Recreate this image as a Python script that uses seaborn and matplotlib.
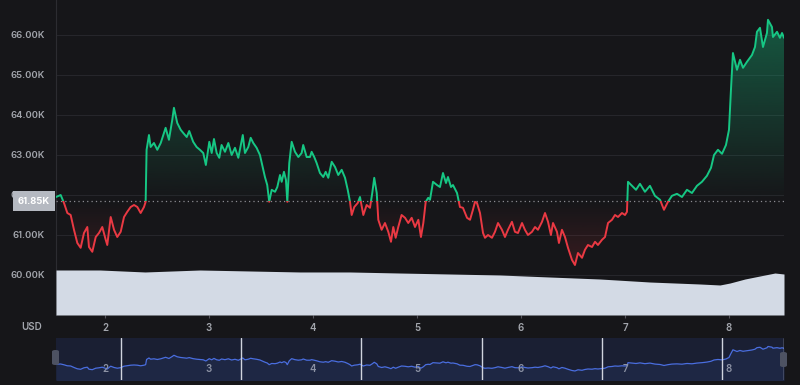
import numpy as np
import pandas as pd
import matplotlib
matplotlib.use("Agg")
import matplotlib.pyplot as plt
import matplotlib.transforms as mtransforms
from matplotlib.path import Path
from matplotlib.patches import PathPatch, Rectangle, FancyBboxPatch
from matplotlib.colors import to_rgb
import seaborn as sns

# --- data (day of month, price in K USD) --- #
days = [1.529, 1.574, 1.606, 1.638, 1.670, 1.702, 1.734, 1.766, 1.798, 1.830,
        1.846, 1.878, 1.911, 1.942, 1.974, 2.007, 2.022, 2.055, 2.087, 2.118,
        2.151, 2.183, 2.214, 2.247, 2.279, 2.311, 2.343, 2.375, 2.391, 2.400,
        2.423, 2.439, 2.471, 2.503, 2.536, 2.567, 2.583, 2.615, 2.647, 2.663,
        2.695, 2.728, 2.753, 2.786, 2.810, 2.848, 2.881, 2.913, 2.945, 2.970,
        3.003, 3.026, 3.048, 3.074, 3.099, 3.121, 3.154, 3.186, 3.218, 3.250,
        3.282, 3.325, 3.346, 3.378, 3.401, 3.426, 3.458, 3.490, 3.516, 3.538,
        3.560, 3.579, 3.603, 3.635, 3.657, 3.683, 3.699, 3.721, 3.740, 3.753,
        3.772, 3.795, 3.827, 3.859, 3.891, 3.906, 3.939, 3.971, 3.987, 4.012,
        4.035, 4.067, 4.099, 4.122, 4.147, 4.180, 4.212, 4.243, 4.276, 4.308,
        4.334, 4.356, 4.372, 4.397, 4.430, 4.452, 4.484, 4.516, 4.548, 4.570,
        4.589, 4.613, 4.628, 4.660, 4.692, 4.724, 4.750, 4.772, 4.795, 4.820,
        4.852, 4.885, 4.916, 4.949, 4.981, 5.013, 5.038, 5.061, 5.084, 5.108,
        5.125, 5.154, 5.192, 5.221, 5.250, 5.279, 5.298, 5.327, 5.346, 5.385,
        5.413, 5.442, 5.481, 5.510, 5.538, 5.558, 5.577, 5.606, 5.635, 5.654,
        5.683, 5.721, 5.750, 5.779, 5.817, 5.846, 5.875, 5.913, 5.942, 5.971,
        6.010, 6.038, 6.067, 6.106, 6.135, 6.163, 6.202, 6.231, 6.260, 6.288,
        6.308, 6.346, 6.365, 6.394, 6.423, 6.452, 6.490, 6.519, 6.548, 6.587,
        6.615, 6.644, 6.683, 6.712, 6.740, 6.779, 6.808, 6.837, 6.875, 6.904,
        6.933, 6.971, 7.000, 7.019, 7.029, 7.067, 7.106, 7.144, 7.192, 7.240,
        7.288, 7.337, 7.375, 7.413, 7.452, 7.500, 7.548, 7.596, 7.644, 7.692,
        7.740, 7.788, 7.827, 7.856, 7.894, 7.933, 7.971, 8.000, 8.019, 8.038,
        8.077, 8.106, 8.135, 8.173, 8.221, 8.250, 8.269, 8.298, 8.327, 8.365,
        8.375, 8.413, 8.423, 8.462, 8.490, 8.510, 8.529]

price = [61.95, 62.00, 61.80, 61.55, 61.50, 61.13, 60.80, 60.68, 61.05, 61.20,
         60.70, 60.58, 60.95, 61.05, 61.20, 60.88, 60.75, 61.45, 61.13, 60.95,
         61.08, 61.45, 61.58, 61.70, 61.75, 61.70, 61.55, 61.70, 61.83, 63.13,
         63.50, 63.20, 63.30, 63.13, 63.30, 63.55, 63.68, 63.38, 63.88, 64.18,
         63.80, 63.63, 63.55, 63.45, 63.60, 63.33, 63.20, 63.13, 63.05, 62.75,
         63.33, 63.05, 63.40, 63.05, 62.93, 63.25, 63.08, 63.30, 63.00, 63.18,
         62.93, 63.50, 63.05, 63.20, 63.43, 63.30, 63.18, 63.00, 62.70, 62.45,
         62.25, 61.83, 62.13, 62.08, 62.20, 62.50, 62.33, 62.58, 62.38, 61.83,
         62.80, 63.33, 63.08, 62.95, 63.05, 63.25, 62.95, 62.95, 63.08, 62.95,
         62.80, 62.55, 62.45, 62.58, 62.43, 62.83, 62.70, 62.50, 62.63, 62.43,
         62.13, 61.83, 61.50, 61.70, 61.80, 61.95, 61.50, 61.75, 61.68, 62.05,
         62.43, 62.05, 61.38, 61.13, 61.30, 61.08, 60.83, 61.20, 60.93, 61.20,
         61.50, 61.43, 61.30, 61.43, 61.20, 61.38, 60.95, 61.30, 61.83, 61.93,
         61.88, 62.33, 62.25, 62.20, 62.55, 62.30, 62.45, 62.20, 62.25, 62.05,
         61.70, 61.68, 61.43, 61.38, 61.63, 61.83, 61.80, 61.55, 61.05, 60.93,
         61.00, 60.93, 61.08, 61.30, 61.13, 60.95, 61.13, 61.33, 61.08, 61.05,
         61.30, 61.13, 61.00, 61.08, 61.20, 61.13, 61.33, 61.55, 61.33, 61.00,
         61.30, 61.08, 60.80, 61.13, 60.95, 60.68, 60.38, 60.25, 60.55, 60.43,
         60.63, 60.75, 60.70, 60.83, 60.75, 60.88, 60.95, 61.30, 61.38, 61.50,
         61.45, 61.55, 61.50, 61.58, 62.33, 62.23, 62.13, 62.28, 62.08, 62.23,
         61.98, 61.88, 61.63, 61.83, 61.98, 62.03, 61.95, 62.13, 62.05, 62.23,
         62.33, 62.48, 62.68, 63.00, 63.13, 63.03, 63.25, 63.63, 64.63, 65.55,
         65.13, 65.38, 65.18, 65.33, 65.50, 65.70, 66.08, 66.18, 65.70, 66.05,
         66.38, 66.20, 65.95, 66.08, 65.93, 66.05, 65.93]

vol_days = [1.529, 1.952, 2.385, 2.913, 3.394, 3.875, 4.356, 4.837, 5.317, 5.798,
            6.279, 6.760, 7.240, 7.721, 7.913, 8.010, 8.154, 8.298, 8.442, 8.529]
volume = [10.0, 10.0, 9.56, 10.0, 9.78, 9.56, 9.56, 9.33, 9.11, 8.89,
          8.44, 8.0, 7.33, 6.89, 6.67, 7.11, 8.0, 8.67, 9.33, 9.11]

base_price = 61.85
day_ticks = [2, 3, 4, 5, 6, 7, 8]
price_ticks = [60, 61, 62, 63, 64, 65, 66]
nav_marks = [2.154, 3.308, 4.462, 5.625, 6.779, 7.933, 8.529]

BG = "#161619"
GREEN = "#16c784"
RED = "#ea3943"
LABEL = "#a3a6ad"

sns.set_theme(style="dark", rc={"axes.facecolor": BG, "figure.facecolor": BG})
plt.rcParams["font.family"] = ["Inter", "DejaVu Sans"]

df = pd.DataFrame({"day": days, "price": price})
x0, x1 = days[0], days[-1]
y_lo, y_hi = 59.0, 66.875

fig = plt.figure(figsize=(8, 3.85), dpi=100)
ax = fig.add_axes([0.07, 70 / 385, 0.91, 315 / 385])

# --- gradient fill between price and base line --- #
verts = np.column_stack([np.r_[days, days[::-1]],
                         np.r_[price, np.full(len(days), base_price)]])
fill_patch = PathPatch(Path(verts), facecolor="none", edgecolor="none")
ax.add_patch(fill_patch)

g = np.zeros((256, 1, 4))
g[..., :3] = to_rgb(GREEN)
g[:, 0, 3] = np.linspace(0.42, 0.0, 256)
im = ax.imshow(g, extent=(x0, x1, base_price, y_hi), aspect="auto", origin="upper", zorder=1)
im.set_clip_path(fill_patch)

r = np.zeros((256, 1, 4))
r[..., :3] = to_rgb(RED)
r[:, 0, 3] = np.linspace(0.0, 0.28, 256)
im2 = ax.imshow(r, extent=(x0, x1, y_lo, base_price), aspect="auto", origin="upper", zorder=1)
im2.set_clip_path(fill_patch)

# --- price line, green above base, red below --- #
sns.lineplot(data=df, x="day", y="price", color=GREEN, lw=1.4, estimator=None,
             sort=False, ax=ax, zorder=4)
ax.lines[-1].set_clip_path(Rectangle((x0, base_price), x1 - x0, 20, transform=ax.transData))
sns.lineplot(data=df, x="day", y="price", color=RED, lw=1.4, estimator=None,
             sort=False, ax=ax, zorder=4)
ax.lines[-1].set_clip_path(Rectangle((x0, base_price - 20), x1 - x0, 20, transform=ax.transData))

ax.axhline(base_price, color="#8c8c92", lw=0.9, ls=(0, (1, 2.5)), zorder=3)

ax.set_xlim(x0, x1)
ax.set_ylim(y_lo, y_hi)
ax.set_xlabel("")
ax.set_ylabel("")
ax.set_yticks(price_ticks)
ax.set_yticklabels([f"{v:.2f}K" for v in price_ticks])
ax.set_xticks(day_ticks)
ax.set_xticklabels([str(d) for d in day_ticks])
ax.grid(True, axis="y", color="#26262b", lw=0.8)
ax.grid(False, axis="x")
ax.tick_params(axis="y", length=0, pad=8, labelsize=6.8, labelcolor=LABEL)
ax.tick_params(axis="x", length=2.5, width=0.8, color="#55555c", pad=3,
               labelsize=7, labelcolor=LABEL, bottom=True)
for lab in ax.get_xticklabels() + ax.get_yticklabels():
    lab.set_fontweight("semibold")
for s in ["top", "right", "bottom"]:
    ax.spines[s].set_visible(False)
ax.spines["left"].set_color("#2c2c31")
ax.spines["left"].set_linewidth(0.8)

# current price tag
trans = mtransforms.blended_transform_factory(ax.transAxes, ax.transData)
ax.text(-0.008, base_price, f"{base_price:.2f}K", transform=trans, ha="right", va="center",
        fontsize=6.8, fontweight="bold", color="white", clip_on=False, zorder=10,
        bbox=dict(boxstyle="square,pad=0.55", fc="#b5b9c1", ec="none"))

# --- volume area --- #
ax_vol = ax.twinx()
ax_vol.fill_between(vol_days, volume, 0, color="#d3dae5", lw=0)
ax_vol.set_ylim(0, 70)
ax_vol.set_xlim(x0, x1)
ax_vol.set_yticks([])
ax_vol.tick_params(axis="x", bottom=False, labelbottom=False)
for s in ax_vol.spines.values():
    s.set_visible(False)

fig.text(32 / 800, 1 - 327 / 385, "USD", ha="center", va="center", color=LABEL,
         fontsize=7, fontweight="semibold")

# --- navigator --- #
nav = fig.add_axes([0.07, 5 / 385, 0.91, 42 / 385])
nav.set_facecolor("#1a1f33")
nav.fill_between(days, price, 50, color="#1e2744", lw=0)
sns.lineplot(data=df, x="day", y="price", color="#4a6ee0", lw=0.9, estimator=None,
             sort=False, ax=nav)
for m in nav_marks:
    nav.axvline(m, color="#d0d4de", lw=1)
nav.set_xlim(x0, x1)
nav.set_ylim(58.0, 68.5)
nav.set_xticks([])
nav.set_yticks([])
nav.set_xlabel("")
nav.set_ylabel("")
for s in nav.spines.values():
    s.set_visible(False)
ntrans = mtransforms.blended_transform_factory(nav.transData, nav.transAxes)
for d in day_ticks:
    nav.text(d, 0.26, str(d), transform=ntrans, ha="center", va="center",
             color="#8d93a5", fontsize=7, fontweight="semibold")

# navigator handles
for hx, hy in [(52, 350), (780, 352)]:
    fig.add_artist(FancyBboxPatch((hx / 800, 1 - (hy + 15) / 385), 7 / 800, 15 / 385,
                                  boxstyle="round,pad=0,rounding_size=0.004",
                                  transform=fig.transFigure, fc="#4d5262", ec="none"))

fig.savefig("out.png", dpi=100, facecolor=BG)
